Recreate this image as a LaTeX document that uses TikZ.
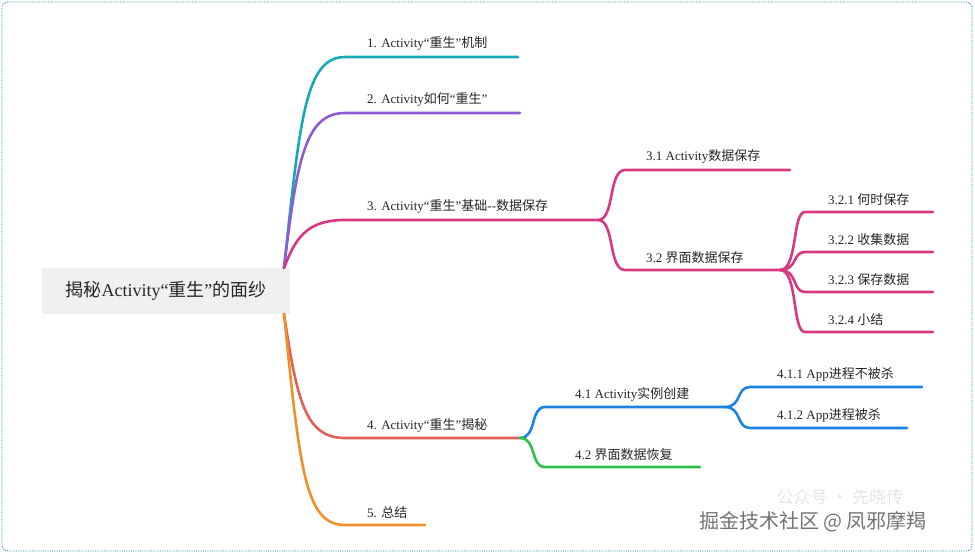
\documentclass[tikz,border=0pt]{standalone}
\usepackage{fontspec}
\setmainfont{Liberation Serif}
\newfontfamily\cjk{Noto Sans CJK SC}
\newcommand{\zh}[1]{{\cjk #1}}
\begin{document}
\begin{tikzpicture}[x=1pt,y=-1pt,
  br/.style={line width=2.6pt,line cap=round},
  lab/.style={anchor=south west,inner sep=1pt,font=\fontsize{13}{13}\selectfont,text=black!85}]
\definecolor{cA}{HTML}{17A9B9}\definecolor{cB}{HTML}{8E5BD6}\definecolor{cC}{HTML}{D6397F}
\definecolor{cD}{HTML}{E0605A}\definecolor{cE}{HTML}{F0902A}\definecolor{cF}{HTML}{1A84E0}
\definecolor{cG}{HTML}{2DC24A}
\useasboundingbox (0,0) rectangle (975,555);
\draw[cA!80!black,densely dotted,line width=0.8pt,rounded corners=6] (2,2) rectangle (972,551);
\node[fill=black!6,minimum width=248,minimum height=46,inner sep=0,font=\fontsize{18}{18}\selectfont,text=black!85] (root) at (166,291) {\zh{揭秘}Activity“\zh{重生}”\zh{的面纱}};
\coordinate (su) at (284,268); \coordinate (sd) at (284,314);
% level 1
\draw[br,cA] (su) .. controls (300,120) and (305,57) .. (345,57) -- (518,57);
\draw[br,cB] (su) .. controls (297,160) and (305,113) .. (345,113) -- (520,113);
\draw[br,cC] (su) .. controls (295,240) and (305,220) .. (345,220) -- (598,220) coordinate (n3);
\draw[br,cD] (sd) .. controls (297,400) and (305,438) .. (345,438) -- (520,438) coordinate (n4);
\draw[br,cE] (sd) .. controls (300,470) and (305,525) .. (345,525) -- (425,525);
\node[lab] (l1) at (366,52) {1. Activity“\zh{重生}”\zh{机制}};
\node[lab] (l2) at (366,108) {2. Activity\zh{如何}“\zh{重生}”};
\node[lab] (l3) at (366,215) {3. Activity“\zh{重生}”\zh{基础}{-}{-}\zh{数据保存}};
\node[lab] (l4) at (366,433) {4. Activity“\zh{重生}”\zh{揭秘}};
\node[lab] (l5) at (366,520) {5. \zh{总结}};
% level 2
\draw[br,cC] (n3) .. controls (615,220) and (608,170) .. (625,170) -- (790,170);
\draw[br,cC] (n3) .. controls (615,220) and (608,270) .. (625,270) -- (780,270) coordinate (n32);
\node[lab] (l31) at (645,165) {3.1 Activity\zh{数据保存}};
\node[lab] (l32) at (645,265) {3.2 \zh{界面数据保存}};
\draw[br,cF] (n4) .. controls (537,438) and (530,407) .. (545,407) -- (725,407) coordinate (n41);
\draw[br,cG] (n4) .. controls (537,438) and (530,467) .. (545,467) -- (700,467);
\node[lab] (l41) at (574,402) {4.1 Activity\zh{实例创建}};
\node[lab] (l42) at (574,462) {4.2 \zh{界面数据恢复}};
% level 3
\foreach \y/\t [count=\i] in {212/3.2.1 \zh{何时保存},252/3.2.2 \zh{收集数据},292/3.2.3 \zh{保存数据},332/3.2.4 \zh{小结}}{
  \draw[br,cC] (n32) .. controls (798,270) and (792,\y) .. (805,\y) -- (933,\y);
  \node[lab] (m\i) at (827,\y-5) {\t};}
\draw[br,cF] (n41) .. controls (742,407) and (736,387) .. (750,387) -- (922,387);
\draw[br,cF] (n41) .. controls (742,407) and (736,428) .. (750,428) -- (907,428);
\node[lab] (l411) at (776,382) {4.1.1 App\zh{进程不被杀}};
\node[lab] (l412) at (776,423) {4.1.2 App\zh{进程被杀}};
% watermark
\node[text=black!10,font=\cjk\fontsize{17}{17}\selectfont] (wm0) at (840,497) {公众号 · 先晓传};
\node[text=black!55,font=\cjk\fontsize{20}{20}\selectfont] (wm) at (813,522) {掘金技术社区 @ 凤邪摩羯};
\end{tikzpicture}
\end{document}
